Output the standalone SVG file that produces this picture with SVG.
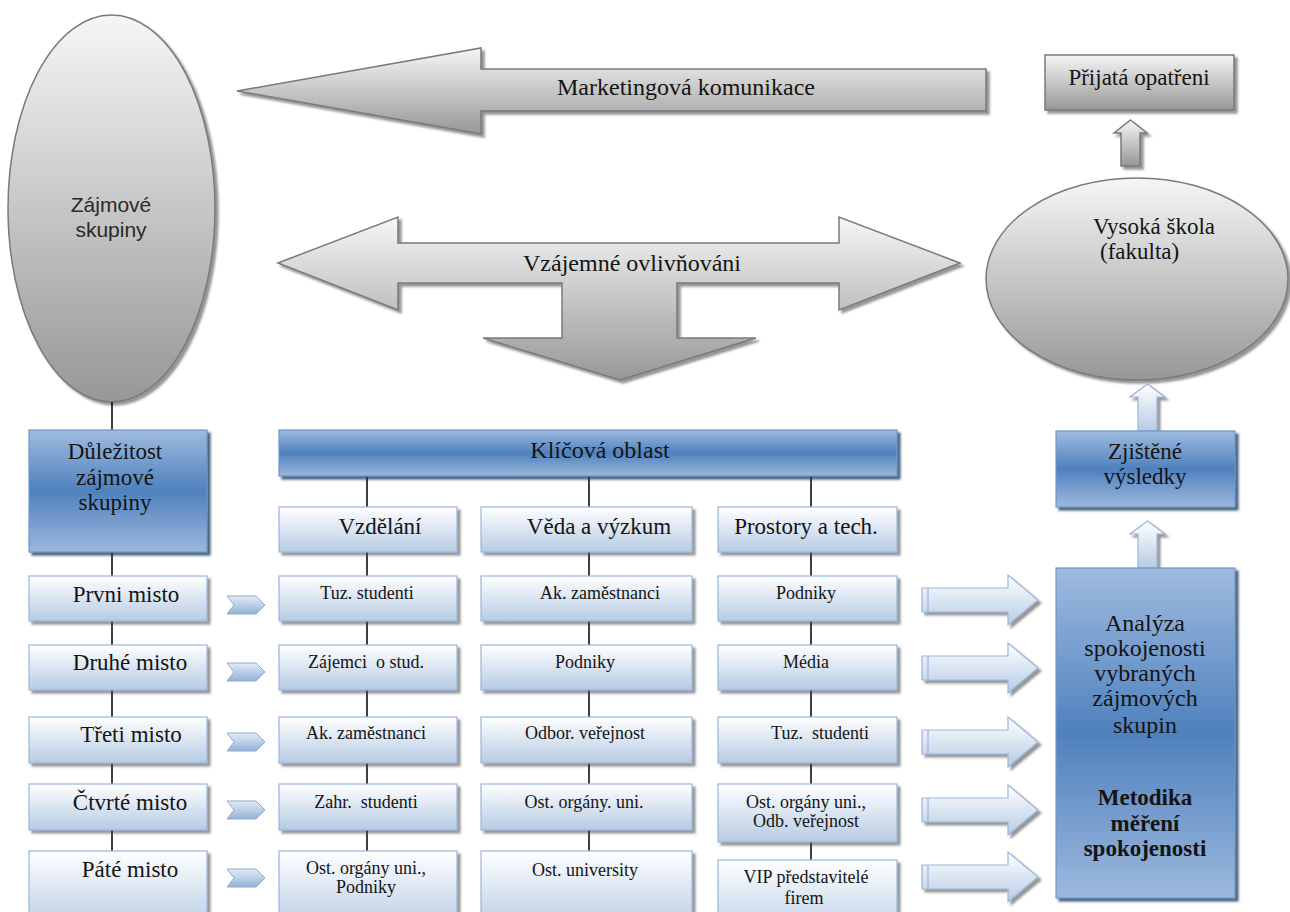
<svg xmlns="http://www.w3.org/2000/svg" width="1290" height="912" viewBox="0 0 1290 912">
<defs>
<linearGradient id="gGray" x1="0" y1="0" x2="0" y2="1"><stop offset="0" stop-color="#f6f6f6"/><stop offset="1" stop-color="#979797"/></linearGradient>
<linearGradient id="gBlue" x1="0" y1="0" x2="0" y2="1"><stop offset="0" stop-color="#9fbbe0"/><stop offset="0.5" stop-color="#4f81bd"/><stop offset="1" stop-color="#9cb8de"/></linearGradient>
<linearGradient id="gLight" x1="0" y1="0" x2="0" y2="1"><stop offset="0" stop-color="#ffffff"/><stop offset="1" stop-color="#b6cbe4"/></linearGradient>
<linearGradient id="gChev" x1="0" y1="0" x2="0" y2="1"><stop offset="0" stop-color="#e4ecf6"/><stop offset="1" stop-color="#93b1d6"/></linearGradient>
<filter id="sh" x="-10%" y="-10%" width="130%" height="130%"><feDropShadow dx="3" dy="3" stdDeviation="1.2" flood-color="#404040" flood-opacity="0.55"/></filter>
<filter id="shB" x="-10%" y="-10%" width="130%" height="130%"><feDropShadow dx="3" dy="3" stdDeviation="1" flood-color="#1f3a5e" flood-opacity="0.8"/></filter>
</defs>
<style>
.gray{fill:url(#gGray);stroke:#7a7a7a;stroke-width:1.5;filter:url(#sh)}
.blue{fill:url(#gBlue);stroke:#6f95c8;stroke-width:1.2;filter:url(#shB)}
.light{fill:url(#gLight);stroke:#9ab5d9;stroke-width:1.2;filter:url(#sh)}
.chev{fill:url(#gChev);stroke:#8eaad0;stroke-width:1}
.rarr{fill:url(#gLight);stroke:#9ab5d9;stroke-width:1.2;filter:url(#sh)}
.t{font-family:"Liberation Serif","Times New Roman",serif;fill:#141414;text-anchor:middle}
.ts{font-family:"Liberation Serif","Times New Roman",serif;fill:#141414;text-anchor:start}
.s{font-family:"Liberation Sans",Arial,sans-serif;fill:#2a2a2a;text-anchor:middle}
.f23{font-size:23px}.f24{font-size:24px}.f18{font-size:18px}
.b{font-weight:bold}
.conn line{stroke:#000;stroke-width:1.5}
.stripe{stroke:#9ab5d9;stroke-width:1.2}
</style>
<rect width="1290" height="912" fill="#ffffff"/>

<g id="zajmove-skupiny">
<ellipse class="gray" cx="111.5" cy="208.5" rx="103.5" ry="193.5"/>
<text class="s" x="111" y="212" font-size="21">Zájmové</text>
<text class="s" x="111" y="237" font-size="21">skupiny</text>
</g>

<g id="marketing">
<polygon class="gray" points="237,91 481,48 481,69 986,69 986,111 481,111 481,134"/>
<text class="t f24" x="686" y="95">Marketingová komunikace</text>
</g>

<g id="vzajemne">
<polygon class="gray" points="278,263 398,217 398,243 839,243 839,217 960,263 839,310 839,283 677,283 677,338 756,338 620,380 483,338 562,338 562,283 398,283 398,310"/>
<text class="t f24" x="632" y="271">Vzájemné ovlivňováni</text>
</g>

<g id="prijata">
<rect class="gray" x="1045" y="55" width="189" height="55"/>
<text class="t f23" x="1139" y="85">Přijatá opatřeni</text>
</g>

<g id="up-gray">
<polygon class="gray" points="1130.5,120 1147,133 1140,133 1140,166 1121,166 1121,133 1114,133"/>
</g>

<g id="vysoka-skola">
<ellipse class="gray" cx="1137" cy="279" rx="151" ry="101"/>
<text class="ts f23" x="1093" y="234">Vysoká škola</text>
<text class="ts f23" x="1100" y="259">(fakulta)</text>
</g>

<g class="conn" id="connectors">
<line x1="112" y1="402" x2="112" y2="430"/>
<line x1="112" y1="552" x2="112" y2="576"/>
<line x1="112" y1="621" x2="112" y2="645"/>
<line x1="112" y1="690" x2="112" y2="717"/>
<line x1="112" y1="763" x2="112" y2="784"/>
<line x1="112" y1="830" x2="112" y2="851"/>
<line x1="367" y1="476" x2="367" y2="507"/>
<line x1="367" y1="552" x2="367" y2="576"/>
<line x1="367" y1="621" x2="367" y2="645"/>
<line x1="367" y1="690" x2="367" y2="717"/>
<line x1="367" y1="763" x2="367" y2="784"/>
<line x1="367" y1="830" x2="367" y2="851"/>
<line x1="589" y1="476" x2="589" y2="507"/>
<line x1="589" y1="552" x2="589" y2="576"/>
<line x1="589" y1="621" x2="589" y2="645"/>
<line x1="589" y1="690" x2="589" y2="717"/>
<line x1="589" y1="763" x2="589" y2="784"/>
<line x1="589" y1="830" x2="589" y2="851"/>
<line x1="811" y1="476" x2="811" y2="507"/>
<line x1="811" y1="552" x2="811" y2="576"/>
<line x1="811" y1="621" x2="811" y2="645"/>
<line x1="811" y1="690" x2="811" y2="717"/>
<line x1="811" y1="763" x2="811" y2="784"/>
<line x1="811" y1="842" x2="811" y2="860"/>
</g>

<g id="dulezitost">
<rect class="blue" x="29" y="430" width="178" height="122"/>
<text class="t f23" x="115" y="459">Důležitost</text>
<text class="t f23" x="115" y="485">zájmové</text>
<text class="t f23" x="115" y="510">skupiny</text>
</g>

<g id="klicova">
<rect class="blue" x="279" y="430" width="618" height="46"/>
<text class="t f24" x="600" y="458">Klíčová oblast</text>
</g>

<g id="vzdelani"><rect class="light" x="279" y="507" width="178" height="45"/><text class="t f23" x="380" y="534">Vzdělání</text></g>
<g id="veda"><rect class="light" x="481" y="507" width="211" height="45"/><text class="t f23" x="599" y="534">Věda a výzkum</text></g>
<g id="prostory"><rect class="light" x="718" y="507" width="179" height="45"/><text class="t f23" x="806" y="534">Prostory a tech.</text></g>

<g id="misto1"><rect class="light" x="29" y="576" width="178" height="45"/><text class="t f23" x="126" y="602">Prvni misto</text></g>
<g id="misto2"><rect class="light" x="29" y="645" width="178" height="45"/><text class="t f23" x="130" y="670">Druhé misto</text></g>
<g id="misto3"><rect class="light" x="29" y="717" width="178" height="46"/><text class="t f23" x="131" y="742">Třeti misto</text></g>
<g id="misto4"><rect class="light" x="29" y="784" width="178" height="46"/><text class="t f23" x="130" y="810">Čtvrté misto</text></g>
<g id="misto5"><rect class="light" x="29" y="851" width="178" height="80"/><text class="t f23" x="130" y="877">Páté misto</text></g>

<g id="c1r1"><rect class="light" x="279" y="576" width="178" height="45"/><text class="t f18" x="367" y="599">Tuz. studenti</text></g>
<g id="c1r2"><rect class="light" x="279" y="645" width="178" height="45"/><text class="t f18" x="366" y="668" xml:space="preserve">Zájemci  o stud.</text></g>
<g id="c1r3"><rect class="light" x="279" y="717" width="178" height="46"/><text class="t f18" x="366" y="739">Ak. zaměstnanci</text></g>
<g id="c1r4"><rect class="light" x="279" y="784" width="178" height="46"/><text class="t f18" x="366" y="808" xml:space="preserve">Zahr.  studenti</text></g>
<g id="c1r5"><rect class="light" x="279" y="851" width="178" height="80"/><text class="t f18" x="366" y="874">Ost. orgány uni.,</text><text class="t f18" x="366" y="893">Podniky</text></g>

<g id="c2r1"><rect class="light" x="481" y="576" width="211" height="45"/><text class="t f18" x="600" y="599">Ak. zaměstnanci</text></g>
<g id="c2r2"><rect class="light" x="481" y="645" width="211" height="45"/><text class="t f18" x="585" y="668">Podniky</text></g>
<g id="c2r3"><rect class="light" x="481" y="717" width="211" height="46"/><text class="t f18" x="585" y="739">Odbor. veřejnost</text></g>
<g id="c2r4"><rect class="light" x="481" y="784" width="211" height="46"/><text class="t f18" x="584" y="808">Ost. orgány. uni.</text></g>
<g id="c2r5"><rect class="light" x="481" y="851" width="211" height="80"/><text class="t f18" x="585" y="876">Ost. university</text></g>

<g id="c3r1"><rect class="light" x="718" y="576" width="179" height="45"/><text class="t f18" x="806" y="599">Podniky</text></g>
<g id="c3r2"><rect class="light" x="718" y="645" width="179" height="45"/><text class="t f18" x="806" y="668">Média</text></g>
<g id="c3r3"><rect class="light" x="718" y="717" width="179" height="46"/><text class="t f18" x="820" y="739" xml:space="preserve">Tuz.  studenti</text></g>
<g id="c3r4"><rect class="light" x="718" y="784" width="179" height="58"/><text class="t f18" x="806" y="808">Ost. orgány uni.,</text><text class="t f18" x="806" y="827">Odb. veřejnost</text></g>
<g id="c3r5"><rect class="light" x="718" y="860" width="179" height="80"/><text class="t f18" x="806" y="883">VIP představitelé</text><text class="t f18" x="804" y="904">firem</text></g>

<g id="chevrons">
<polygon class="chev" points="227,596 256,596 265,605 256,614 227,614 234,605"/>
<polygon class="chev" points="227,663 256,663 265,672 256,681 227,681 234,672"/>
<polygon class="chev" points="227,733 256,733 265,742 256,751 227,751 234,742"/>
<polygon class="chev" points="227,801 256,801 265,810 256,819 227,819 234,810"/>
<polygon class="chev" points="227,869 256,869 265,878 256,887 227,887 234,878"/>
</g>

<g id="right-arrows">
<polygon class="rarr" points="922,588 1008,588 1008,575 1038,600 1008,625 1008,612 922,612"/>
<line class="stripe" x1="928" y1="588" x2="928" y2="612"/>
<polygon class="rarr" points="922,656 1008,656 1008,643 1038,668 1008,693 1008,680 922,680"/>
<line class="stripe" x1="928" y1="656" x2="928" y2="680"/>
<polygon class="rarr" points="922,730 1008,730 1008,717 1038,742 1008,767 1008,754 922,754"/>
<line class="stripe" x1="928" y1="730" x2="928" y2="754"/>
<polygon class="rarr" points="922,798 1008,798 1008,785 1038,810 1008,835 1008,822 922,822"/>
<line class="stripe" x1="928" y1="798" x2="928" y2="822"/>
<polygon class="rarr" points="922,865 1008,865 1008,852 1038,877 1008,902 1008,889 922,889"/>
<line class="stripe" x1="928" y1="865" x2="928" y2="889"/>
</g>

<g id="up-blue">
<polygon class="rarr" points="1147.5,384 1165,397 1157,397 1157,431 1138,431 1138,397 1130,397"/>
<polygon class="rarr" points="1147.5,521 1165,534 1157,534 1157,568 1138,568 1138,534 1130,534"/>
</g>

<g id="zjistene">
<rect class="blue" x="1056" y="431" width="179" height="76"/>
<text class="t f23" x="1145" y="459">Zjištěné</text>
<text class="t f23" x="1145" y="484">výsledky</text>
</g>

<g id="analyza">
<rect class="blue" x="1056" y="568" width="179" height="330"/>
<text class="t f24" x="1145" y="631">Analýza</text>
<text class="t f24" x="1145" y="656">spokojenosti</text>
<text class="t f24" x="1145" y="681">vybraných</text>
<text class="t f24" x="1145" y="706">zájmových</text>
<text class="t f24" x="1145" y="733">skupin</text>
<text class="t f23 b" x="1145" y="805">Metodika</text>
<text class="t f23 b" x="1145" y="831">měření</text>
<text class="t f23 b" x="1145" y="856">spokojenosti</text>
</g>
</svg>
